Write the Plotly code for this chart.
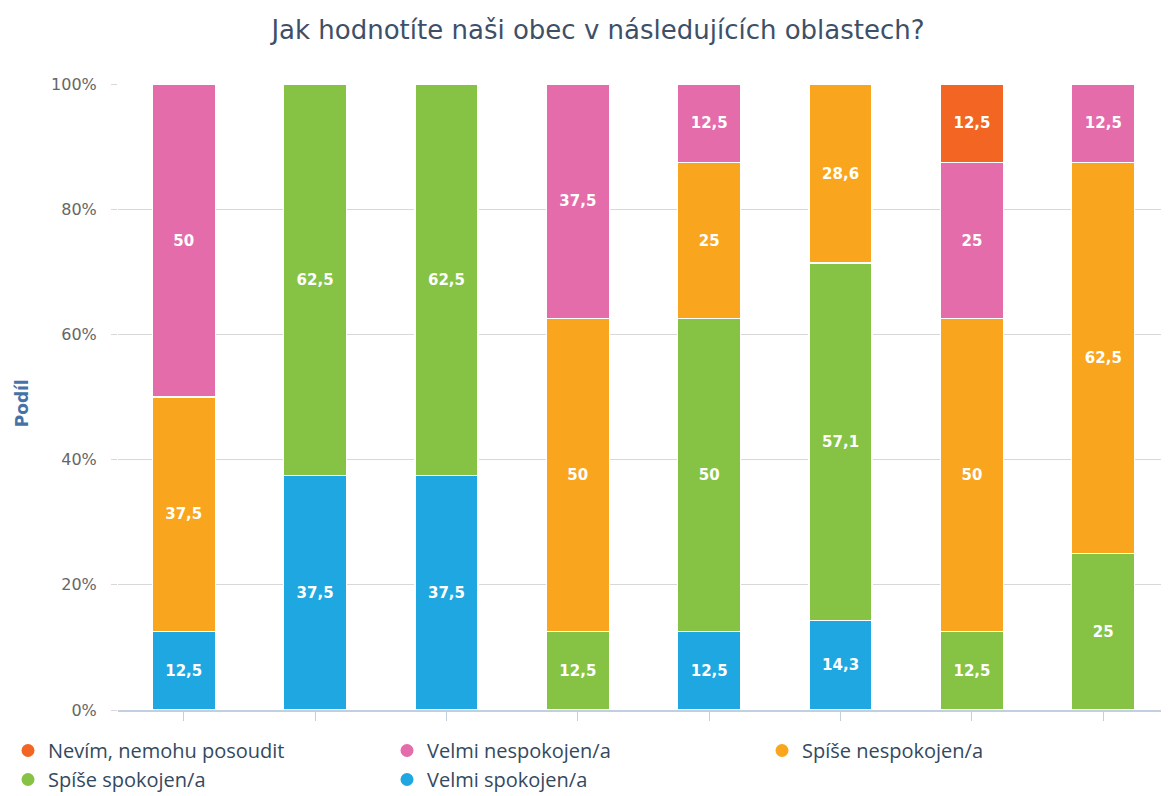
import plotly.graph_objects as go

categories = ["Oblast 1", "Oblast 2", "Oblast 3", "Oblast 4", "Oblast 5", "Oblast 6", "Oblast 7", "Oblast 8"]

velmi_spokojen = [12.5, 37.5, 37.5, None, 12.5, 14.3, None, None]
spise_spokojen = [None, 62.5, 62.5, 12.5, 50, 57.1, 12.5, 25]
spise_nespokojen = [37.5, None, None, 50, 25, 28.6, 50, 62.5]
velmi_nespokojen = [50, None, None, 37.5, 12.5, None, 25, 12.5]
nevim = [None, None, None, None, None, None, 12.5, None]

series = [
    ("Velmi spokojen/a", velmi_spokojen, "#1EA7E1"),
    ("Spíše spokojen/a", spise_spokojen, "#86C345"),
    ("Spíše nespokojen/a", spise_nespokojen, "#F9A61E"),
    ("Velmi nespokojen/a", velmi_nespokojen, "#E46CAA"),
    ("Nevím, nemohu posoudit", nevim, "#F26522"),
]

# legend layout of the reference: three columns
legend_column = {
    "Nevím, nemohu posoudit": "legend",
    "Spíše spokojen/a": "legend",
    "Velmi nespokojen/a": "legend2",
    "Velmi spokojen/a": "legend2",
    "Spíše nespokojen/a": "legend3",
}
legend_order = ["Nevím, nemohu posoudit", "Spíše spokojen/a",
                "Velmi nespokojen/a", "Velmi spokojen/a", "Spíše nespokojen/a"]

def fmt(v):
    if v is None:
        return ""
    return ("%g" % v).replace(".", ",")

fig = go.Figure()
for name, vals, color in series:
    fig.add_trace(go.Bar(
        x=categories, y=vals, name=name, showlegend=False,
        marker=dict(color=color, line=dict(color="white", width=1.2)),
        text=[fmt(v) for v in vals], texttemplate="%{text}",
        textposition="inside", insidetextanchor="middle",
        textfont=dict(color="white", size=15, family="DejaVu Sans", weight="bold"),
        textangle=0, constraintext="none",
        hoverinfo="skip",
    ))

colors = {n: c for n, _, c in series}
for name in legend_order:
    fig.add_trace(go.Scatter(
        x=[categories[0]], y=[None], name=name, mode="markers",
        marker=dict(color=colors[name], size=13, symbol="circle"),
        showlegend=True, hoverinfo="skip", legend=legend_column[name],
    ))

leg_common = dict(orientation="v", traceorder="normal",
                  xref="container", yref="container",
                  xanchor="left", y=0.0825, yanchor="top",
                  itemwidth=30, bgcolor="rgba(0,0,0,0)",
                  font=dict(family="Open Sans, sans-serif", size=20, color="#34495E"))

fig.update_layout(
    width=1161, height=788,
    barmode="stack", bargap=0.52,
    plot_bgcolor="white", paper_bgcolor="white",
    margin=dict(l=110, r=0, t=76, b=86, autoexpand=False),
    title=dict(text="Jak hodnotíte naši obec v následujících oblastech?",
               x=590 / 1161, xanchor="center", xref="container",
               y=1 - 22 / 788, yanchor="middle", yref="container",
               font=dict(family="DejaVu Sans", size=26, color="#3D5068")),
    font=dict(family="DejaVu Sans"),
    legend=dict(leg_common, x=0.0),
    legend2=dict(leg_common, x=379 / 1161),
    legend3=dict(leg_common, x=754 / 1161),
    showlegend=True,
    annotations=[dict(text="<b>Podíl</b>", xref="paper", yref="paper",
                      x=-96 / 1051, y=0.49, xanchor="center", yanchor="middle",
                      textangle=-90, showarrow=False,
                      font=dict(family="DejaVu Sans", size=17, color="#4572A7"))],
)
fig.update_xaxes(showticklabels=False, ticks="outside", ticklen=9, tickcolor="#C0D0E0",
                 showline=True, linecolor="#C0D0E0", linewidth=2, showgrid=False)
fig.update_yaxes(range=[0, 100], dtick=20, ticksuffix="%", showgrid=True,
                 gridcolor="#D8D8D8", gridwidth=1, ticks="outside", ticklen=6,
                 tickcolor="#D8D8D8", tickfont=dict(size=16, color="#666666"),
                 ticklabelstandoff=11, zeroline=False)

fig.write_html("out.html")
